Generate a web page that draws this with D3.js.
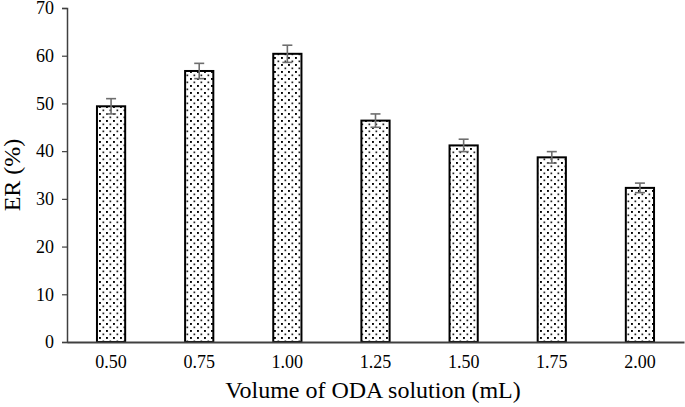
<!DOCTYPE html>
<html>
<head>
<meta charset="utf-8">
<script src="https://cdn.jsdelivr.net/npm/d3@7"></script>
<style>
  body { margin: 0; background: #fff; }
  text { font-family: "Liberation Serif", "Times New Roman", serif; }
</style>
</head>
<body>
<div id="chart"></div>
<script>
var w = 685,
    h = 407;

// data
var categories = ['0.50', '0.75', '1.00', '1.25', '1.50', '1.75', '2.00'];
var erValues = [49.4, 56.8, 60.4, 46.4, 41.2, 38.7, 32.3];
var erErrors = [1.6, 1.6, 1.8, 1.4, 1.3, 1.2, 1.0];
var yTicks = [0, 10, 20, 30, 40, 50, 60, 70];

var margin = {top: 8, right: 1, bottom: 65, left: 67};

var svg = d3.select('#chart')
  .append('svg')
  .attr('width', w)
  .attr('height', h);

// dotted fill
var defs = svg.append('defs');
var pat = defs.append('pattern')
  .attr('id', 'dots')
  .attr('patternUnits', 'userSpaceOnUse')
  .attr('width', 7)
  .attr('height', 7);
pat.append('rect').attr('width', 7).attr('height', 7).attr('fill', '#fff');
pat.append('rect').attr('x', 1).attr('y', 1).attr('width', 1.9).attr('height', 1.9).attr('fill', '#000');
pat.append('rect').attr('x', 4.5).attr('y', 4.5).attr('width', 1.7).attr('height', 1.7).attr('fill', '#222');

var x = d3.scaleBand()
  .domain(categories)
  .range([margin.left, w - margin.right])
  .paddingInner(0.68)
  .paddingOuter(0.34);

var y = d3.scaleLinear()
  .domain([0, 70])
  .range([h - margin.bottom, margin.top]);

//Bars
svg.selectAll('rect.bar')
  .data(erValues)
  .enter()
  .append('rect')
  .attr('class', 'bar')
  .attr('x', function(d, i){ return x(categories[i]); })
  .attr('y', function(d){ return y(d); })
  .attr('width', x.bandwidth())
  .attr('height', function(d){ return y(0) - y(d); })
  .attr('fill', 'url(#dots)')
  .attr('stroke', '#000')
  .attr('stroke-width', 2);

//Error bars
var eb = svg.append('g')
  .attr('stroke', '#6e6e6e')
  .attr('stroke-width', 1.6);
erValues.forEach(function(d, i) {
  var cx = x(categories[i]) + x.bandwidth() / 2;
  eb.append('line')
    .attr('x1', cx).attr('x2', cx)
    .attr('y1', y(d - erErrors[i])).attr('y2', y(d + erErrors[i]));
  eb.append('line')
    .attr('x1', cx - 5).attr('x2', cx + 5)
    .attr('y1', y(d + erErrors[i])).attr('y2', y(d + erErrors[i]));
  eb.append('line')
    .attr('x1', cx - 5).attr('x2', cx + 5)
    .attr('y1', y(d - erErrors[i])).attr('y2', y(d - erErrors[i]));
});

//Y axis
var yAxis = svg.append('g')
  .attr('transform', 'translate(' + margin.left + ',0)')
  .call(d3.axisLeft(y).tickValues(yTicks).tickSize(5).tickPadding(8));
yAxis.select('.domain').attr('stroke', '#404040').attr('stroke-width', 1.5);
yAxis.selectAll('.tick line').attr('stroke', '#404040').attr('stroke-width', 1.2);
yAxis.selectAll('.tick text')
  .attr('font-size', '18px')
  .attr('fill', '#000')
  .style('font-family', '"Liberation Serif", serif');

//X axis
var xAxis = svg.append('g')
  .attr('transform', 'translate(0,' + y(0) + ')')
  .call(d3.axisBottom(x).tickSize(0).tickPadding(13).tickSizeOuter(0));
xAxis.select('.domain').attr('stroke', '#404040').attr('stroke-width', 2.2);
xAxis.selectAll('.tick text')
  .attr('font-size', '18px')
  .attr('fill', '#000')
  .style('font-family', '"Liberation Serif", serif');

//Titles
svg.append('text')
  .attr('x', (margin.left + w) / 2 - 3)
  .attr('y', 398)
  .attr('text-anchor', 'middle')
  .attr('font-size', '24px')
  .text('Volume of ODA solution (mL)');

svg.append('text')
  .attr('transform', 'translate(20,' + y(35) + ') rotate(-90)')
  .attr('text-anchor', 'middle')
  .attr('font-size', '24px')
  .text('ER (%)');
</script>
</body>
</html>
